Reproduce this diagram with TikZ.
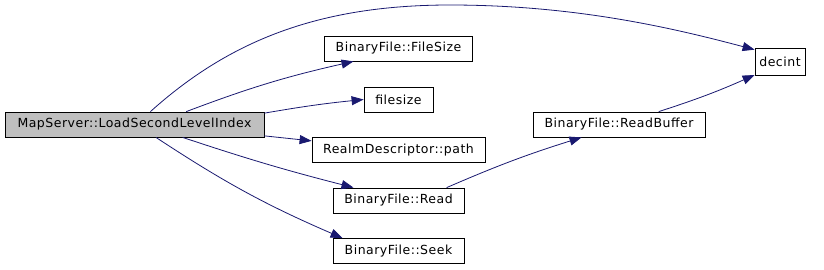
\documentclass[tikz,border=0pt]{standalone}
\usepackage{fontspec}
\usepackage{tikz}
\usetikzlibrary{arrows.meta}
\newfontfamily\dxfont[LetterSpace=4]{DejaVu Sans}
\definecolor{callblue}{HTML}{191970}

\begin{document}
\begin{tikzpicture}[x=1pt, y=-1pt, font=\dxfont\fontsize{12.5}{14}\selectfont,
  >={Triangle[length=12pt, width=9pt]},
  fn/.style={draw, line width=0.8pt, minimum height=25pt, inner sep=0pt, anchor=center},
  call/.style={->, draw=callblue, line width=0.8pt},
]
  \useasboundingbox (0,0) rectangle (824,269);
  \node[fn, fill=black!25, minimum width=259pt] (main) at (134.5,124.5) {MapServer::LoadSecondLevelIndex};
  % callees of main, one column
  \foreach \xn/\xy/\xw/\xtxt in {%
    fsz/48.5/148pt/{BinaryFile::FileSize},%
    fsl/99.5/69pt/{filesize},%
    path/150/173pt/{RealmDescriptor::path},%
    read/200.5/131pt/{BinaryFile::Read},%
    seek/251/131pt/{BinaryFile::Seek}%
  } {
    \node[fn, minimum width=\xw] (\xn) at (398.5,\xy) {\xtxt};
  }
  \node[fn, minimum width=172pt] (rbuf) at (619,124.5) {BinaryFile::ReadBuffer};
  \node[fn, minimum width=50pt, minimum height=27pt] (decint) at (780,61.5) {decint};

  \draw[call] (main.39) .. controls (230,40) and (320,5) .. (450,5)
    .. controls (580,5) and (680,30) .. (decint.155);
  \draw[call] (main.14) to[bend left=4] (fsz.196);
  \draw[call] (main.5) to[bend left=2] (fsl.west);
  \draw[call] (main.-5) -- (path.174);
  \draw[call] (main.-15) to[bend right=2] (read.164);
  \draw[call] (main.-31) to[bend right=5] (seek.167);
  \draw[call] (read.15) to[bend left=3] (rbuf.199);
  \draw[call] (rbuf.18) to[bend right=3] (decint.208);
\end{tikzpicture}
\end{document}
